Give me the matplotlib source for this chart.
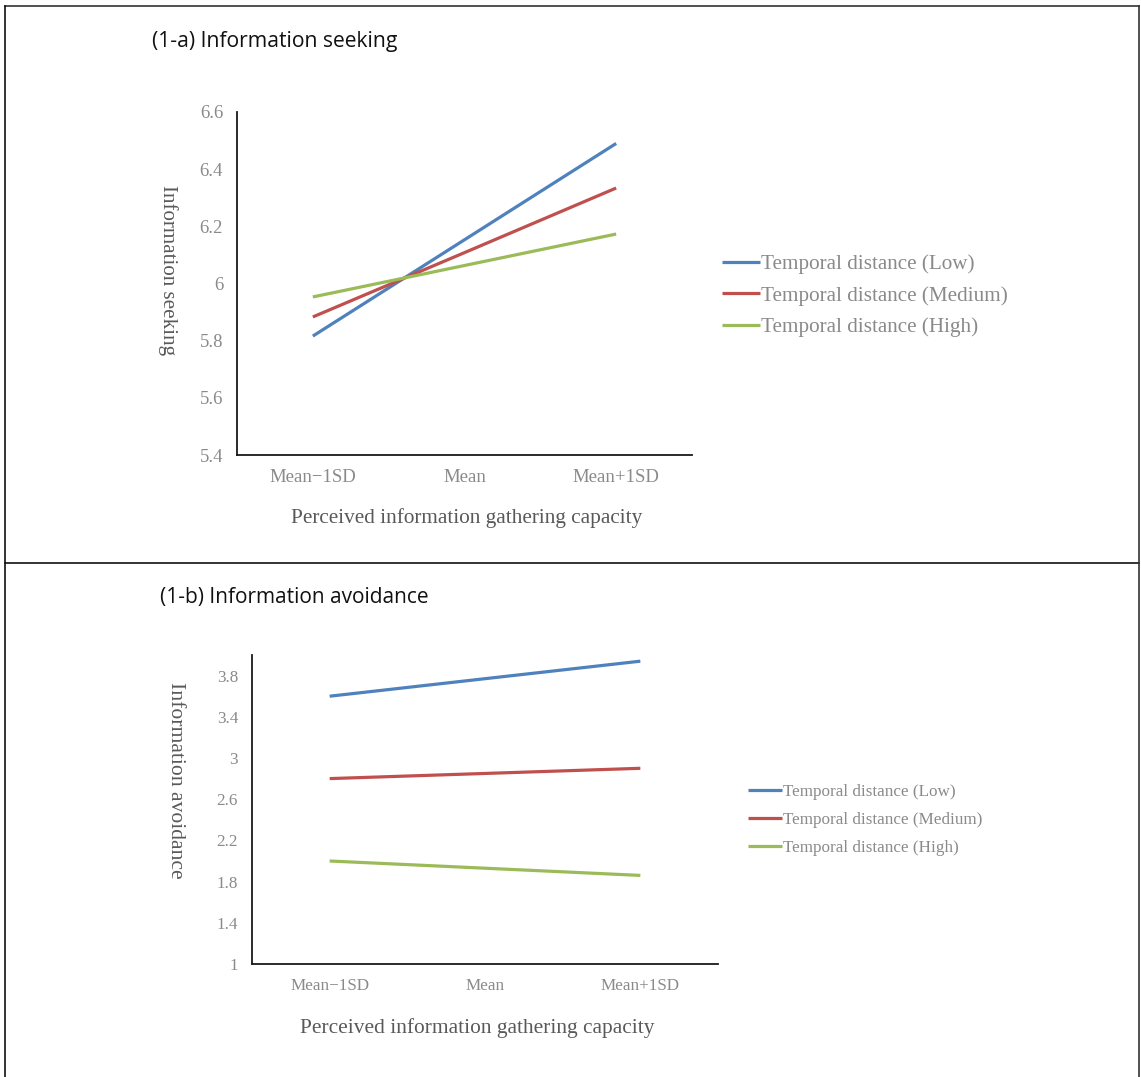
import matplotlib
matplotlib.use("Agg")
import matplotlib.pyplot as plt
from matplotlib.lines import Line2D

# ------------------------------------------------------------------
# data
# ------------------------------------------------------------------
categories = ["Mean\u22121SD", "Mean", "Mean+1SD"]
series_names = ["Temporal distance (Low)", "Temporal distance (Medium)", "Temporal distance (High)"]
colors = ["#4F81BD", "#C0504D", "#9BBB59"]

seeking_low = [5.816, 6.153, 6.490]
seeking_medium = [5.883, 6.108, 6.334]
seeking_high = [5.953, 6.063, 6.173]

avoid_low = [3.60, 3.77, 3.94]
avoid_medium = [2.80, 2.85, 2.90]
avoid_high = [2.00, 1.93, 1.86]

seeking_ticks = [5.4, 5.6, 5.8, 6.0, 6.2, 6.4, 6.6]
seeking_ticklabels = ["5.4", "5.6", "5.8", "6", "6.2", "6.4", "6.6"]
avoid_ticks = [1.0, 1.4, 1.8, 2.2, 2.6, 3.0, 3.4, 3.8]
avoid_ticklabels = ["1", "1.4", "1.8", "2.2", "2.6", "3", "3.4", "3.8"]

W, H = 1141, 1077
SERIF = ["Liberation Serif", "DejaVu Serif"]
SANS = ["Open Sans", "DejaVu Sans"]
TICK_C = "#8a8a8a"
LABEL_C = "#595959"

fig = plt.figure(figsize=(W / 100, H / 100), dpi=100)


def box(left, top, right, bottom):
    # pixel box -> figure fraction rect
    return [left / W, 1 - bottom / H, (right - left) / W, (bottom - top) / H]


def panel(rect, series, ylim, ticks, ticklabels, ylabel, ylab_xy, xlab_xy,
          leg_xy, leg_space, leg_handle, tick_fs, leg_fs, xlab_fs, ylab_fs):
    ax = fig.add_axes(rect)
    x = list(range(len(categories)))
    for vals, name, c in zip(series, series_names, colors):
        ax.plot(x, vals, color=c, lw=2.3, label=name, solid_capstyle="butt")
    ax.set_xlim(-0.5, len(categories) - 0.5)
    ax.set_ylim(*ylim)
    ax.set_yticks(ticks)
    ax.set_yticklabels(ticklabels)
    ax.set_xticks(x)
    ax.set_xticklabels(categories)
    for s in ["top", "right"]:
        ax.spines[s].set_visible(False)
    for s in ["left", "bottom"]:
        ax.spines[s].set_linewidth(1.3)
        ax.spines[s].set_color("#1a1a1a")
    ax.tick_params(length=0, labelsize=tick_fs, labelcolor=TICK_C, pad=10)
    for t in ax.get_xticklabels() + ax.get_yticklabels():
        t.set_family(SERIF)
    ax.set_ylabel(ylabel, rotation=270, va="center", ha="center",
                  fontsize=ylab_fs, color=LABEL_C, family=SERIF)
    ax.yaxis.set_label_coords(*ylab_xy)
    ax.set_xlabel("Perceived information gathering capacity", va="center",
                  fontsize=xlab_fs, color=LABEL_C, family=SERIF)
    ax.xaxis.set_label_coords(*xlab_xy)
    leg = ax.legend(loc="center left", bbox_to_anchor=(leg_xy[0] / W, 1 - leg_xy[1] / H),
                    bbox_transform=fig.transFigure, frameon=False, borderpad=0,
                    borderaxespad=0, handlelength=leg_handle, handletextpad=0.05,
                    labelspacing=leg_space, prop={"family": SERIF, "size": leg_fs})
    for t in leg.get_texts():
        t.set_color(TICK_C)
    return ax


# (1-a) information seeking
panel(box(237, 112, 692, 455), [seeking_low, seeking_medium, seeking_high],
      (5.4, 6.6), seeking_ticks, seeking_ticklabels, "Information seeking",
      (-0.152, 0.54), (0.505, -0.184), (722, 296), 0.55, 1.8,
      13.5, 15.2, 15.3, 15.1)

# (1-b) information avoidance
panel(box(252, 655, 718, 964), [avoid_low, avoid_medium, avoid_high],
      (1.0, 4.0), avoid_ticks, avoid_ticklabels, "Information avoidance",
      (-0.165, 0.595), (0.483, -0.207), (748, 820), 0.7, 2.0,
      12.3, 12.3, 15.4, 15.6)

fig.text(152 / W, 1 - 42 / H, "(1-a) Information seeking", ha="left", va="center",
         fontsize=15.2, family=SANS, color="#111111")
fig.text(160 / W, 1 - 598 / H, "(1-b) Information avoidance", ha="left", va="center",
         fontsize=15.0, family=SANS, color="#111111")

# table borders
def hline(y, x0, x1, c="#333333"):
    fig.add_artist(Line2D([x0 / W, x1 / W], [1 - y / H, 1 - y / H], color=c, lw=1.2,
                          transform=fig.transFigure))


def vline(x, y0, y1, c="#333333"):
    fig.add_artist(Line2D([x / W, x / W], [1 - y0 / H, 1 - y1 / H], color=c, lw=1.2,
                          transform=fig.transFigure))


hline(6, 5, 1139)
hline(563, 5, 1139, c="#111111")
vline(5, 6, 1077, c="#111111")
vline(1139, 6, 1077)

fig.savefig("out.png", dpi=100)
